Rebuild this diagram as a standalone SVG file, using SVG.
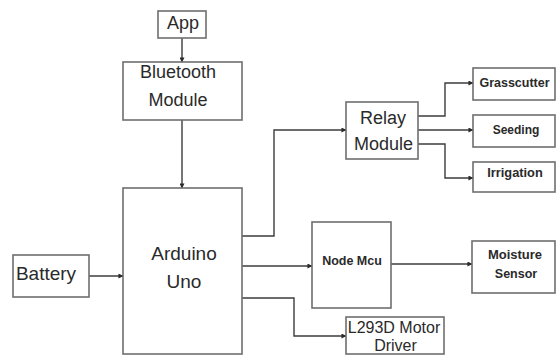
<svg xmlns="http://www.w3.org/2000/svg" width="556" height="356" viewBox="0 0 556 356">
<style>
.box{fill:#fff;stroke:#6e6e6e;stroke-width:1.6}
.t{font-family:"Liberation Sans",Arial,sans-serif;fill:#2a2a2a;text-anchor:middle}
.b{font-weight:bold}
.c{fill:none;stroke:#3c3c3c;stroke-width:1.4}
</style>
<defs>
<marker id="ah" viewBox="0 0 6 6" refX="5.5" refY="3" markerWidth="5" markerHeight="5" orient="auto" markerUnits="userSpaceOnUse">
<path d="M0,0 L6,3 L0,6 z" fill="#2a2a2a"/>
</marker>
</defs>
<rect width="556" height="356" fill="#fff"/>
<g id="connectors">
<path class="c" d="M182,38 V62" marker-end="url(#ah)"/>
<path class="c" d="M182,120 V188" marker-end="url(#ah)"/>
<path class="c" d="M89,276 H123" marker-end="url(#ah)"/>
<path class="c" d="M242,236 H274 V130 H346" marker-end="url(#ah)"/>
<path class="c" d="M242,266 H312" marker-end="url(#ah)"/>
<path class="c" d="M242,298 H294 V336 H346" marker-end="url(#ah)"/>
<path class="c" d="M418,116 H445 V83 H473" marker-end="url(#ah)"/>
<path class="c" d="M418,130 H473" marker-end="url(#ah)"/>
<path class="c" d="M418,144 H445 V178 H473" marker-end="url(#ah)"/>
<path class="c" d="M391,264 H472" marker-end="url(#ah)"/>
</g>
<g id="app"><rect class="box" x="158" y="11" width="48" height="27"/><text class="t" x="183" y="29" font-size="18">App</text></g>
<g id="bluetooth"><rect class="box" x="123" y="62" width="119" height="58"/><text class="t" x="178" y="78" font-size="18">Bluetooth</text><text class="t" x="178" y="106" font-size="18">Module</text></g>
<g id="arduino"><rect class="box" x="123" y="188" width="119" height="166"/><text class="t" x="184" y="260" font-size="19">Arduino</text><text class="t" x="184" y="288" font-size="19">Uno</text></g>
<g id="battery"><rect class="box" x="13" y="255" width="76" height="42"/><text class="t" x="46" y="280" font-size="19">Battery</text></g>
<g id="relay"><rect class="box" x="346" y="102" width="72" height="57"/><text class="t" x="383" y="124" font-size="18">Relay</text><text class="t" x="383.5" y="150" font-size="18">Module</text></g>
<g id="grasscutter"><rect class="box" x="473" y="68" width="82" height="32"/><text class="t b" x="514.5" y="87" font-size="12.5">Grasscutter</text></g>
<g id="seeding"><rect class="box" x="473" y="115" width="82" height="32"/><text class="t b" x="516" y="134" font-size="12">Seeding</text></g>
<g id="irrigation"><rect class="box" x="473" y="162" width="82" height="30"/><text class="t b" x="515" y="177" font-size="12.8">Irrigation</text></g>
<g id="nodemcu"><rect class="box" x="312" y="222" width="79" height="86"/><text class="t b" x="352" y="265" font-size="12.5">Node Mcu</text></g>
<g id="moisture"><rect class="box" x="472" y="241" width="83" height="52"/><text class="t b" x="515" y="259" font-size="13">Moisture</text><text class="t b" x="516" y="278" font-size="12.5">Sensor</text></g>
<g id="l293d"><rect class="box" x="346" y="317" width="98" height="37"/><text class="t" x="394" y="333" font-size="16">L293D Motor</text><text class="t" x="395.5" y="351" font-size="16">Driver</text></g>
</svg>
